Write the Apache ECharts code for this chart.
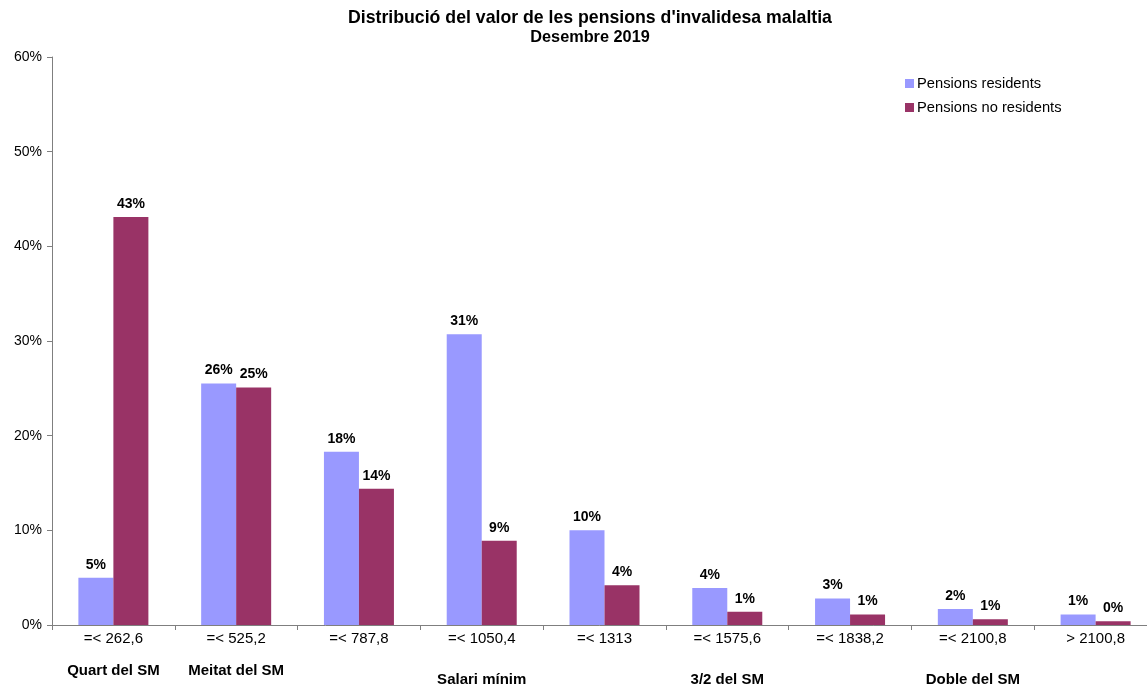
<!DOCTYPE html>
<html>
<head>
<meta charset="utf-8">
<script src="https://cdn.jsdelivr.net/npm/echarts@6/dist/echarts.min.js"></script>
<style>html,body{margin:0;padding:0;background:#fff;}#c{width:1147px;height:686px;}</style>
</head>
<body>
<div id="c"></div>
<script>
const categories = ['=< 262,6','=< 525,2','=< 787,8','=< 1050,4','=< 1313','=< 1575,6','=< 1838,2','=< 2100,8','> 2100,8'];
const groupLabels = ['Quart del SM','Meitat del SM','','Salari mínim','','3/2 del SM','','Doble del SM',''];
const residents = [5.0, 25.5, 18.3, 30.7, 10.0, 3.9, 2.8, 1.7, 1.1];
const nonResidents = [43.1, 25.1, 14.4, 8.9, 4.2, 1.4, 1.1, 0.6, 0.4];
const yTicks = [0, 10, 20, 30, 40, 50, 60];

const FONT = '"Liberation Sans", Arial, sans-serif';
const chart = echarts.init(document.getElementById('c'));
const labelCfg = {
  show: true, position: 'top', distance: 6,
  fontFamily: FONT, fontWeight: 'bold', fontSize: 14, color: '#000',
  formatter: p => Math.round(p.value) + '%'
};
chart.setOption({
  animation: false,
  backgroundColor: '#fff',
  title: {
    text: "Distribució del valor de les pensions d'invalidesa malaltia",
    subtext: 'Desembre 2019',
    left: 585, top: 4, textAlign: 'center', itemGap: 3,
    textStyle: {fontFamily: FONT, fontWeight: 'bold', fontSize: 17.7, color: '#000'},
    subtextStyle: {fontFamily: FONT, fontWeight: 'bold', fontSize: 16.3, color: '#000'}
  },
  legend: {
    orient: 'vertical', left: 900, top: 71, itemWidth: 9, itemHeight: 9, itemGap: 9,
    icon: 'rect',
    textStyle: {fontFamily: FONT, fontSize: 14.7, color: '#000', padding: [0,0,0,-2]},
    data: ['Pensions residents', 'Pensions no residents']
  },
  grid: {left: 52, top: 57, height: 568, width: 1105, containLabel: false, outerBoundsMode: 'none'},
  xAxis: {
    type: 'category', data: categories,
    axisLine: {lineStyle: {color: '#7f7f7f', width: 1}},
    axisTick: {show: true, alignWithLabel: false, length: 5, lineStyle: {color: '#7f7f7f'}},
    axisLabel: {
      interval: 0, margin: 5, fontFamily: FONT, fontSize: 15, color: '#000', lineHeight: 17,
      formatter: (v, i) => {
        const g = groupLabels[i];
        if (!g) return v;
        return v + '\n{' + (i < 2 ? 'hi' : 'lo') + '|' + g + '}';
      },
      rich: {
        hi: {fontFamily: FONT, fontWeight: 'bold', fontSize: 15, color: '#000', lineHeight: 48},
        lo: {fontFamily: FONT, fontWeight: 'bold', fontSize: 15, color: '#000', lineHeight: 66}
      }
    }
  },
  yAxis: {
    type: 'value', min: 0, max: 60, interval: 10,
    axisLine: {show: true, lineStyle: {color: '#7f7f7f'}},
    axisTick: {show: true, length: 5, lineStyle: {color: '#7f7f7f'}},
    splitLine: {show: false},
    axisLabel: {margin: 10, fontFamily: FONT, fontSize: 14, color: '#000',
      formatter: v => yTicks.includes(v) ? v + '%' : ''}
  },
  series: [
    {name: 'Pensions residents', type: 'bar', data: residents, barWidth: 35, barGap: '0%',
      itemStyle: {color: '#9999FF'}, label: labelCfg},
    {name: 'Pensions no residents', type: 'bar', data: nonResidents, barWidth: 35, barGap: '0%',
      itemStyle: {color: '#993366'}, label: labelCfg}
  ]
});
</script>
</body>
</html>
